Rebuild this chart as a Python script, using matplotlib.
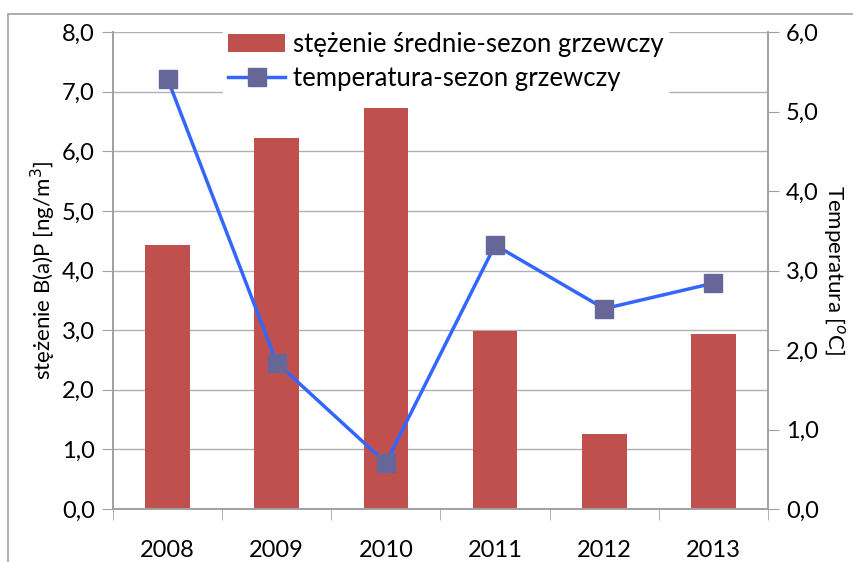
import numpy as np
import matplotlib
matplotlib.use('Agg')
import matplotlib.pyplot as plt
from matplotlib.patches import Rectangle
from matplotlib.ticker import FuncFormatter, FixedLocator

lata = ['2008', '2009', '2010', '2011', '2012', '2013']
stezenie = [4.42, 6.22, 6.73, 2.98, 1.26, 2.94]
temperatura = [5.41, 1.84, 0.58, 3.32, 2.52, 2.84]

plt.rcParams['font.family'] = ['Lato', 'DejaVu Sans']
plt.rcParams['font.size'] = 16

fig = plt.figure(figsize=(8.54, 5.62), dpi=100)
ax = fig.add_axes([113 / 854, 1 - 509 / 562, (768 - 113) / 854, (509 - 32) / 562])
ax2 = ax.twinx()

# ramka wykresu
fig.patches.append(Rectangle((8 / 854, -0.01), 1.0, 1 - 14 / 562 + 0.01, transform=fig.transFigure,
                             fill=False, edgecolor='#a0a0a0', linewidth=1.2))

x = np.arange(len(lata))
bars = ax.bar(x, stezenie, width=0.41, color='#C0504D', zorder=2, label='stężenie średnie-sezon grzewczy')
line, = ax2.plot(x, temperatura, color='#3366FF', linewidth=2.5, marker='s', markersize=12.5,
                 markerfacecolor='#666699', markeredgecolor='#666699', label='temperatura-sezon grzewczy')

ax.set_xlim(-0.5, 5.5)
ax.set_ylim(0, 8)
ax2.set_ylim(0, 6)
ax.set_yticks(np.arange(0, 9, 1))
ax2.set_yticks(np.arange(0, 7, 1))
fmt = FuncFormatter(lambda v, p: f'{v:.1f}'.replace('.', ','))
ax.yaxis.set_major_formatter(fmt)
ax2.yaxis.set_major_formatter(fmt)
ax.grid(axis='y', color='#b0b0b0', linewidth=1, zorder=0)
ax.set_axisbelow(True)

ax.set_xticks(x)
ax.set_xticklabels(lata, fontsize=17)
ax.tick_params(axis='x', length=0, pad=22)
ax.xaxis.set_minor_locator(FixedLocator(np.arange(-0.5, 6, 1)))
ax.tick_params(axis='x', which='minor', length=8, color='#a0a0a0')
ax.tick_params(axis='y', length=8, color='#a0a0a0', pad=5, labelsize=17)
ax2.tick_params(axis='y', length=8, color='#a0a0a0', pad=5, labelsize=17)

for a in (ax, ax2):
    a.spines['top'].set_visible(False)
    for s in ('left', 'right', 'bottom'):
        a.spines[s].set_color('#a0a0a0')
        a.spines[s].set_linewidth(1.2)

ax.set_ylabel('stężenie B(a)P [ng/m$^{3}$]', fontsize=16, labelpad=3)
ax2.set_ylabel('Temperatura [$^{o}$C]', fontsize=16, rotation=270, labelpad=20)

leg = ax.legend([bars, line], [bars.get_label(), line.get_label()], loc='upper center',
                bbox_to_anchor=(0.508, 1.038), frameon=True, fancybox=False, framealpha=1,
                edgecolor='white', fontsize=18.5, handlelength=2.2, handletextpad=0.3,
                borderpad=0.2, labelspacing=0.35)
leg.set_zorder(5)

fig.savefig('out.png', dpi=100)
